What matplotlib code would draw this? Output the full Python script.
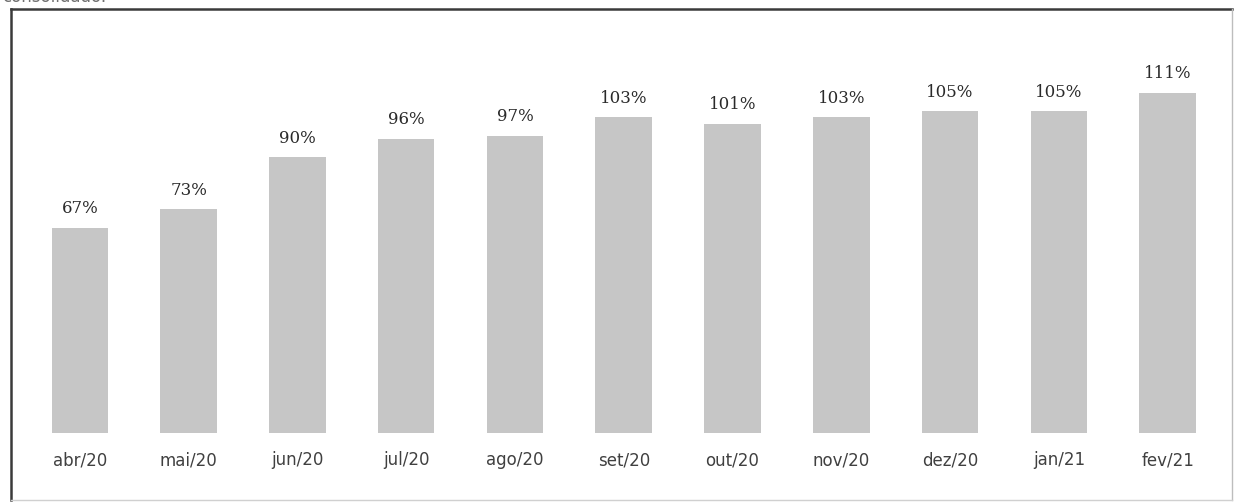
import numpy as np
import matplotlib.pyplot as plt
from matplotlib.lines import Line2D

# monthly index, % of pre-pandemic level
months = ["abr/20", "mai/20", "jun/20", "jul/20", "ago/20", "set/20",
          "out/20", "nov/20", "dez/20", "jan/21", "fev/21"]
values = [67, 73, 90, 96, 97, 103, 101, 103, 105, 105, 111]

W, H = 1234, 504
fig = plt.figure(figsize=(W / 100, H / 100), dpi=100)
ax = fig.add_axes([25.5 / W, 71 / H, 1196.5 / W, 383 / H])

x = np.arange(len(months))
ax.bar(x, values, width=0.52, color="#c6c6c6", edgecolor="none")

for xi, v in zip(x, values):
    ax.text(xi, v + 3.5, f"{v}%", ha="center", va="bottom",
            fontsize=12, color="#2a2a2a", family="DejaVu Serif")

ax.set_xlim(-0.5, len(months) - 0.5)
ax.set_ylim(0, 125)
ax.set_xticks(x)
ax.set_xticklabels(months, fontsize=12, color="#404040")
ax.tick_params(axis="x", length=0, pad=13)
ax.set_yticks([])
for s in ax.spines.values():
    s.set_visible(False)

# outer frame: dark left/top, light right/bottom
def fx(px):
    return px / W

def fy(py):
    return 1 - py / H

fig.add_artist(Line2D([fx(11), fx(11)], [fy(9), fy(500)], color="#3a3a3a", lw=1.8))
fig.add_artist(Line2D([fx(11), fx(1232)], [fy(9), fy(9)], color="#3a3a3a", lw=1.8))
fig.add_artist(Line2D([fx(1232), fx(1232)], [fy(9), fy(500)], color="#bdbdbd", lw=1.0))
fig.add_artist(Line2D([fx(11), fx(1232)], [fy(500), fy(500)], color="#d0d0d0", lw=1.0))

# caption line running off the top edge
fig.text(fx(2), fy(1.5), "consolidado.", fontsize=12, color="#707070", va="baseline")

fig.savefig("out.png", dpi=100)
